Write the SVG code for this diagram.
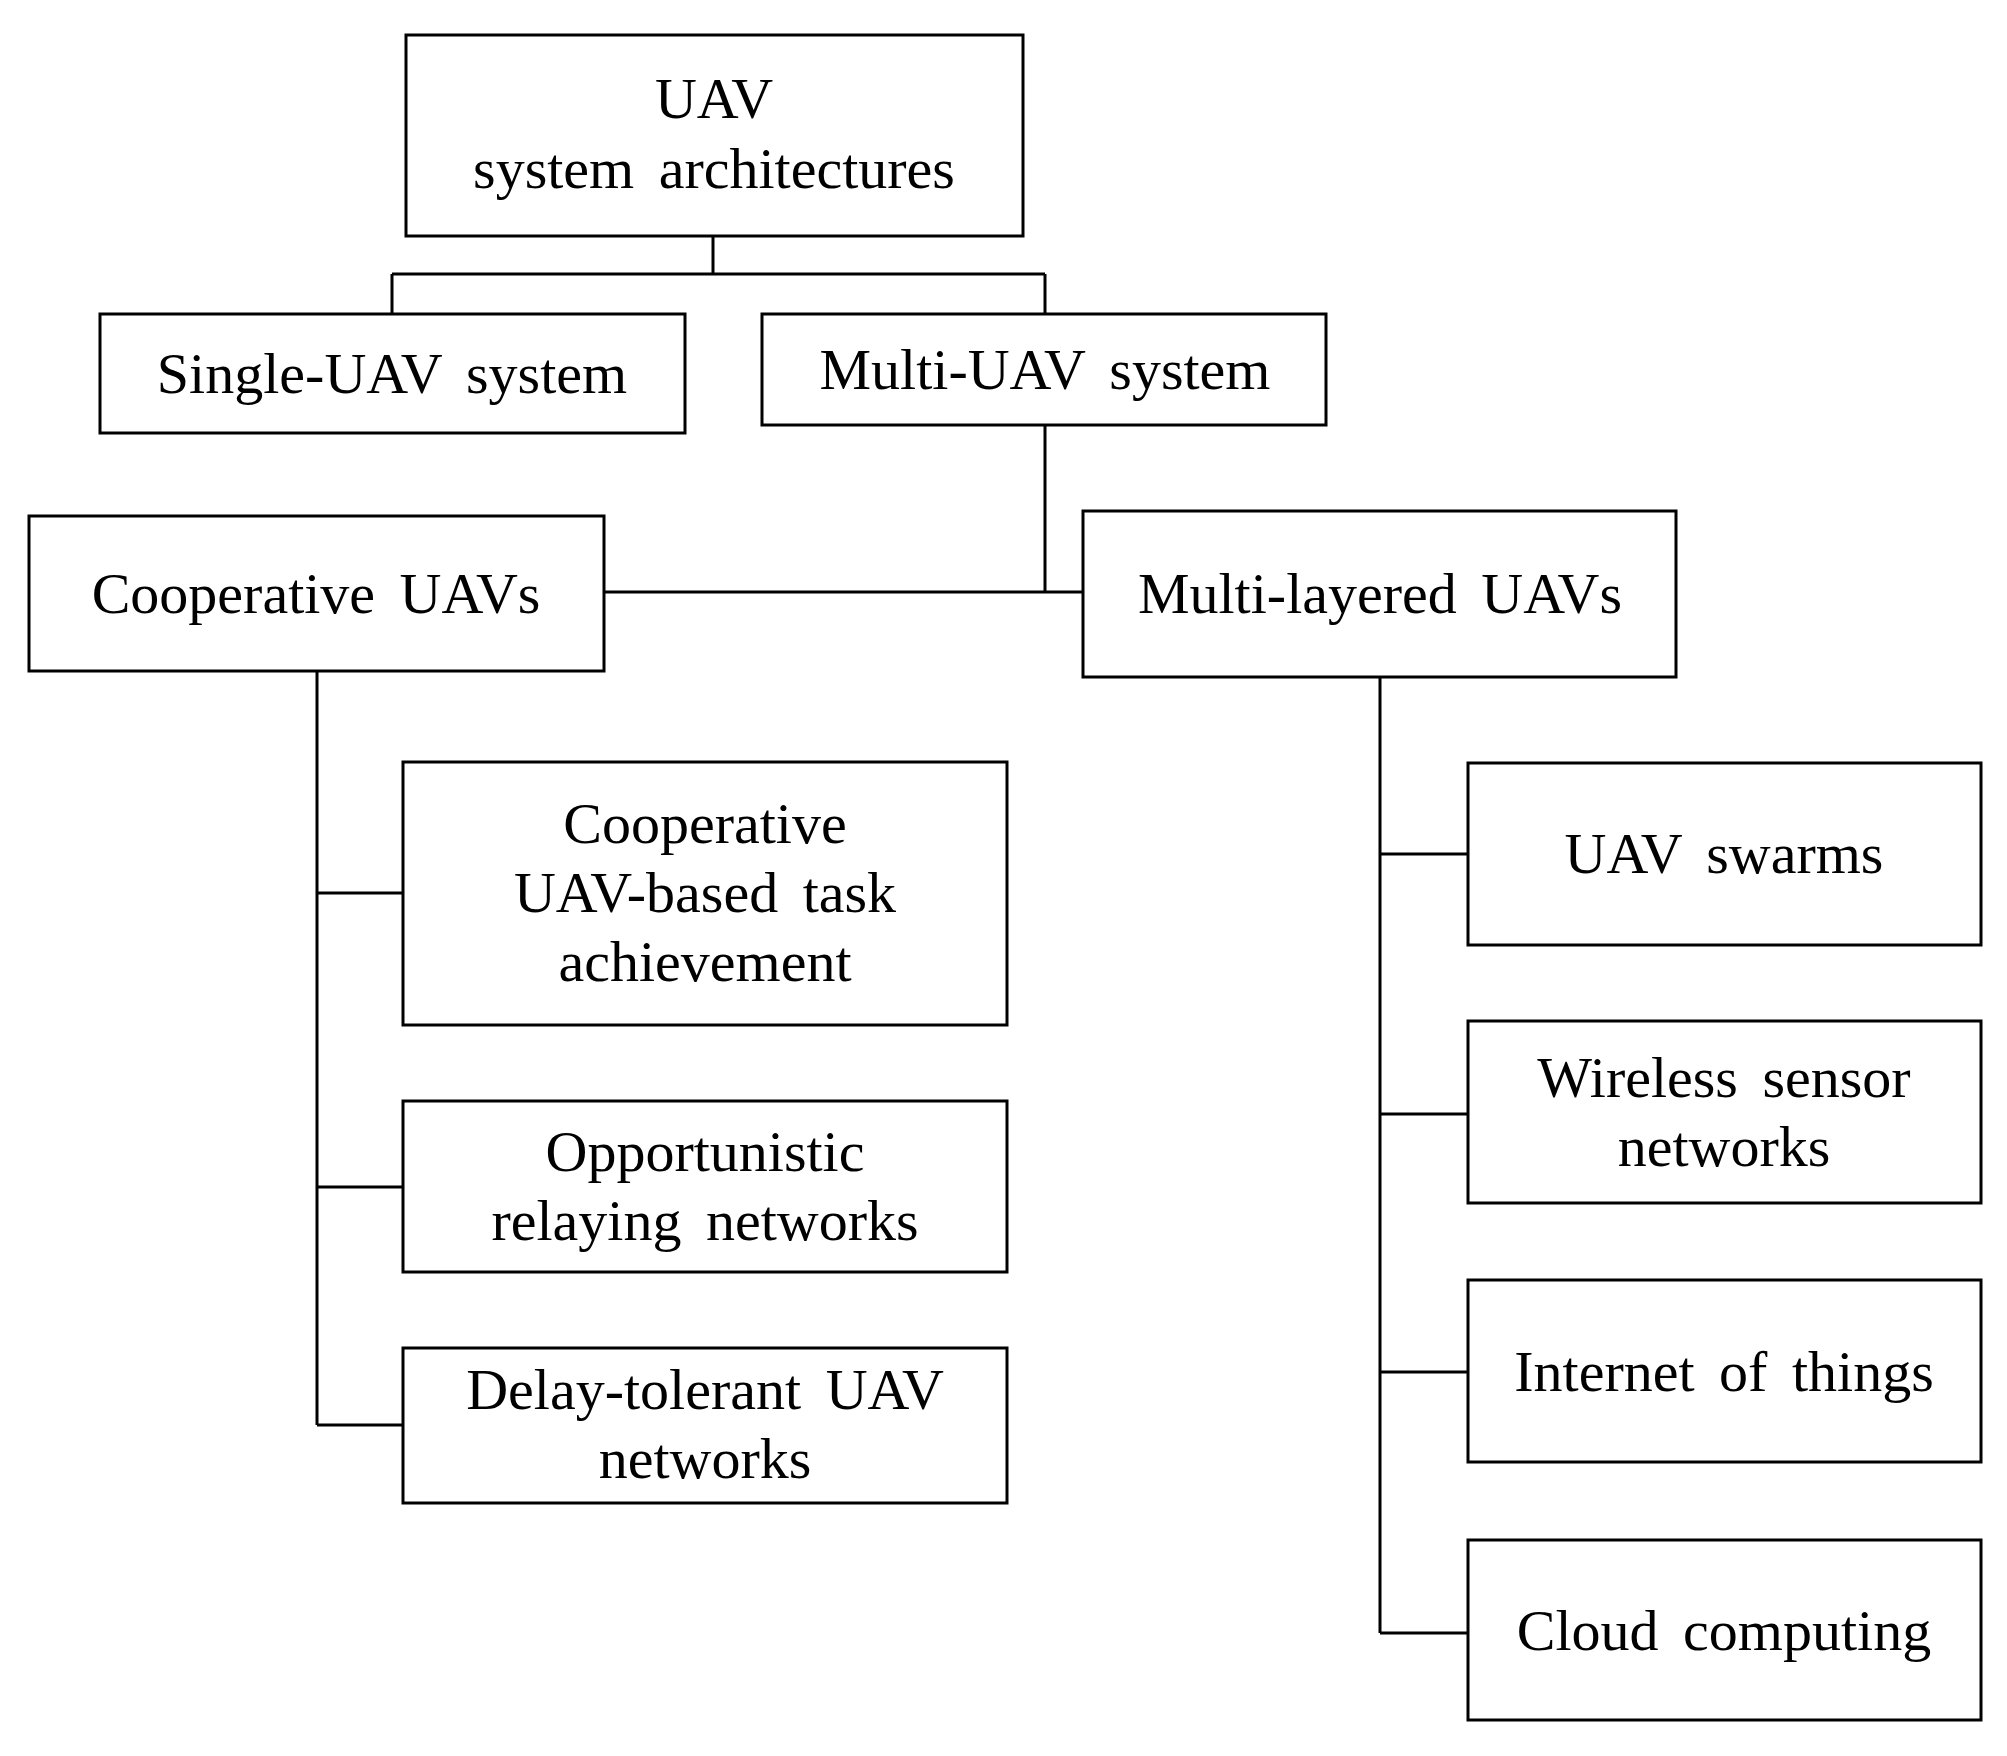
<svg xmlns="http://www.w3.org/2000/svg" width="2007" height="1756" viewBox="0 0 2007 1756">
<style>
rect{fill:#fff;stroke:#000;stroke-width:3}
text{font-family:"Liberation Serif",serif;font-size:58px;text-anchor:middle;fill:#000;word-spacing:10px}
.c{fill:none;stroke:#000;stroke-width:3}
</style>
<rect x="0" y="0" width="2007" height="1756" style="stroke:none"/>
<g id="connectors" class="c">
<path d="M713 236V274M392 274H1045M392 274V314M1045 274V314"/>
<path d="M1045 425V592M604 592H1083"/>
<path d="M317 671V1425M317 893H403M317 1187H403M317 1425H403"/>
<path d="M1380 677V1633M1380 854H1468M1380 1114H1468M1380 1372H1468M1380 1633H1468"/>
</g>
<g id="root"><rect x="406" y="35" width="617" height="201"/><text x="714" y="118">UAV</text><text x="714" y="188">system architectures</text></g>
<g id="single"><rect x="100" y="314" width="585" height="119"/><text x="392" y="393">Single-UAV system</text></g>
<g id="multi"><rect x="762" y="314" width="564" height="111"/><text x="1045" y="389">Multi-UAV system</text></g>
<g id="coop"><rect x="29" y="516" width="575" height="155"/><text x="316" y="613">Cooperative UAVs</text></g>
<g id="layered"><rect x="1083" y="511" width="593" height="166"/><text x="1380" y="613">Multi-layered UAVs</text></g>
<g id="task"><rect x="403" y="762" width="604" height="263"/><text x="705" y="843">Cooperative</text><text x="705" y="912">UAV-based task</text><text x="705" y="981">achievement</text></g>
<g id="opp"><rect x="403" y="1101" width="604" height="171"/><text x="705" y="1171">Opportunistic</text><text x="705" y="1240">relaying networks</text></g>
<g id="delay"><rect x="403" y="1348" width="604" height="155"/><text x="705" y="1409">Delay-tolerant UAV</text><text x="705" y="1478">networks</text></g>
<g id="swarms"><rect x="1468" y="763" width="513" height="182"/><text x="1724" y="873">UAV swarms</text></g>
<g id="wsn"><rect x="1468" y="1021" width="513" height="182"/><text x="1724" y="1097">Wireless sensor</text><text x="1724" y="1166">networks</text></g>
<g id="iot"><rect x="1468" y="1280" width="513" height="182"/><text x="1724" y="1391">Internet of things</text></g>
<g id="cloud"><rect x="1468" y="1540" width="513" height="180"/><text x="1724" y="1650">Cloud computing</text></g>
</svg>
